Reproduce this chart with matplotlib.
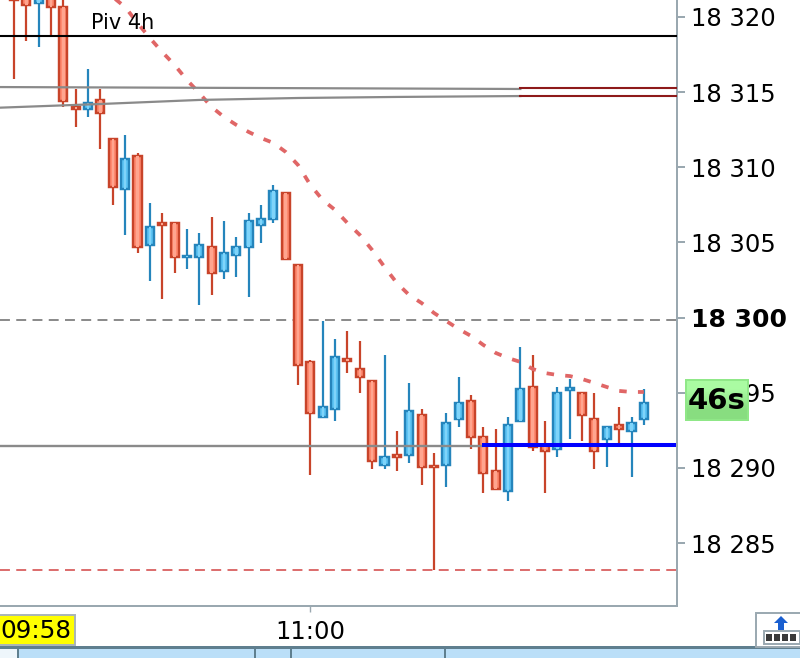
import numpy as np
import matplotlib
matplotlib.use("Agg")

import matplotlib.pyplot as plt
from matplotlib.patches import Rectangle, Polygon

opens = [18321.33, 18321.33, 18320.93, 18321.33, 18320.66, 18314.01, 18313.88, 18314.48, 18311.88, 18308.56,
         18310.75, 18304.83, 18306.29, 18306.29, 18304.03, 18304.03, 18304.70, 18303.10, 18304.17, 18304.70,
         18306.16, 18306.56, 18308.29, 18303.50, 18297.05, 18293.39, 18293.92, 18297.25, 18296.58, 18295.78,
         18290.19, 18290.86, 18290.86, 18293.52, 18290.13, 18290.19, 18293.25, 18294.45, 18292.06, 18289.80,
         18288.46, 18293.12, 18295.38, 18291.52, 18291.25, 18295.18, 18294.98, 18293.25, 18291.92, 18292.86,
         18292.46, 18293.25]
closes = [18321.13, 18320.80, 18321.53, 18320.66, 18314.41, 18313.88, 18314.28, 18313.61, 18308.69, 18310.55,
          18304.70, 18306.03, 18306.16, 18304.03, 18304.10, 18304.83, 18302.97, 18304.30, 18304.70, 18306.43,
          18306.56, 18308.42, 18303.90, 18296.85, 18293.65, 18294.05, 18297.38, 18297.11, 18296.05, 18290.46,
          18290.73, 18290.73, 18293.79, 18290.06, 18290.06, 18292.99, 18294.32, 18292.06, 18289.66, 18288.60,
          18292.86, 18295.25, 18291.39, 18291.12, 18294.98, 18295.32, 18293.52, 18291.12, 18292.72, 18292.59,
          18292.99, 18294.32]
highs = [18321.93, 18321.93, 18321.93, 18321.93, 18321.93, 18315.21, 18316.54, 18315.21, 18311.88, 18312.15,
         18310.95, 18307.62, 18306.96, 18306.29, 18305.89, 18305.63, 18306.69, 18306.43, 18305.36, 18306.96,
         18307.49, 18308.82, 18308.29, 18303.50, 18297.18, 18299.77, 18298.58, 18299.11, 18298.44, 18295.78,
         18297.51, 18292.46, 18295.65, 18293.92, 18291.00, 18293.65, 18296.05, 18294.85, 18292.72, 18292.59,
         18293.39, 18298.04, 18297.51, 18293.12, 18295.38, 18295.91, 18294.98, 18294.98, 18292.72, 18294.05,
         18293.39, 18295.25]
lows = [18315.87, 18318.40, 18318.00, 18318.80, 18314.01, 18312.68, 18313.35, 18311.22, 18307.49, 18305.50,
        18304.30, 18302.43, 18301.24, 18302.97, 18303.23, 18300.84, 18301.50, 18302.57, 18302.70, 18301.37,
        18304.96, 18306.29, 18303.90, 18295.52, 18289.53, 18293.39, 18293.12, 18296.31, 18294.98, 18289.93,
        18289.93, 18289.80, 18290.33, 18288.86, 18283.21, 18288.73, 18292.72, 18291.26, 18288.33, 18288.60,
        18287.80, 18293.12, 18291.12, 18288.33, 18290.73, 18291.92, 18291.79, 18289.93, 18290.06, 18291.52,
        18289.40, 18292.86]

ma_start = 8
ma_values = [18321.33, 18320.66, 18319.60, 18318.60, 18317.67, 18316.81, 18315.81, 18314.94, 18314.01, 18313.35,
             18312.82, 18312.35, 18311.95, 18311.62, 18311.02, 18310.15, 18308.82, 18307.82, 18307.16, 18306.29,
             18305.50, 18304.50, 18303.37, 18302.30, 18301.50, 18300.97, 18300.31, 18299.77, 18299.24, 18298.78,
             18298.18, 18297.65, 18297.31, 18297.05, 18296.58, 18296.31, 18296.18, 18296.11, 18295.91, 18295.65,
             18295.38, 18295.12, 18295.05, 18295.05]

pivot_level = 18318.73
upper_gray_x = [-2, 41]
upper_gray = [18315.34, 18315.21]
lower_gray_x = [-2, 7, 15, 23, 31, 41]
lower_gray = [18313.94, 18314.21, 18314.48, 18314.61, 18314.68, 18314.74]
dark_red_levels = [18315.28, 18314.74]
dark_red_from = 41
dashed_gray_level = 18299.84
dashed_red_level = 18283.21
solid_gray_level = 18291.46
blue_level = 18291.5
blue_from = 37.9

price_ticks = [18285, 18290, 18295, 18300, 18305, 18310, 18315, 18320]
price_labels = ["18 285", "18 290", "18 295", "18 300", "18 305", "18 310", "18 315", "18 320"]
time_tick = 24
time_label = "11:00"

RED_EDGE = "#C8442A"
RED_FILL = "#FF8A70"
RED_LIGHT = "#FFA58F"
BLUE_EDGE = "#2585BC"
BLUE_FILL = "#5EC4F4"
BLUE_LIGHT = "#7FD4FA"
FRAME = "#9AA8B0"

fig = plt.figure(figsize=(8, 6.58), dpi=100)
ax = fig.add_axes([0, 52 / 658, 677 / 800, 606 / 658])

xs = np.arange(len(opens))
o = np.array(opens)
c = np.array(closes)
is_up = c > o
edge = [BLUE_EDGE if up else RED_EDGE for up in is_up]
fill = [BLUE_FILL if up else RED_FILL for up in is_up]
light = [BLUE_LIGHT if up else RED_LIGHT for up in is_up]

ax.vlines(xs, lows, highs, colors=edge, linewidth=1.6, zorder=2)
ax.bar(xs, np.abs(c - o), bottom=np.minimum(o, c), width=0.65, color=fill,
       edgecolor=edge, linewidth=1.75, zorder=3)
ax.bar(xs, np.abs(c - o), bottom=np.minimum(o, c), width=0.2, color=light, linewidth=0, zorder=3.1)

ax.plot(xs[ma_start:], ma_values, color="#E06666", linewidth=2.7, linestyle=(0, (2.0, 3.0)),
        dash_capstyle="butt", zorder=4)

ax.axhline(pivot_level, color="black", linewidth=1.5, zorder=5)
ax.plot(upper_gray_x, upper_gray, color="#8A8A8A", linewidth=1.6, zorder=5)
ax.plot(lower_gray_x, lower_gray, color="#8A8A8A", linewidth=1.6, zorder=5)
for level in dark_red_levels:
    ax.plot([dark_red_from, 60], [level, level], color="#8E1A1A", linewidth=1.5, zorder=5)
ax.axhline(dashed_gray_level, color="#808080", linewidth=1.3, dashes=(5.5, 3.5), zorder=1)
ax.axhline(dashed_red_level, color="#D96060", linewidth=1.3, dashes=(5.5, 3.5), zorder=1)
ax.plot([-2, blue_from], [solid_gray_level, solid_gray_level], color="#8A8A8A", linewidth=1.7, zorder=5)
ax.plot([blue_from, 53.6], [blue_level, blue_level], color="#0000FF", linewidth=2.9,
        solid_capstyle="butt", zorder=6)

ax.text(6.2, 18319.62, "Piv 4h", fontsize=15, va="center", ha="left", color="black", zorder=7)

ax.set_xlim(-14 / 12.35, 663 / 12.35)
ax.set_ylim(18280.81, 18321.13)
ax.spines["top"].set_visible(False)
ax.spines["left"].set_visible(False)
for side in ["right", "bottom"]:
    ax.spines[side].set_color(FRAME)
    ax.spines[side].set_linewidth(1.44)

ax.yaxis.tick_right()
ax.set_yticks(price_ticks)
ax.set_yticklabels(price_labels)
ax.tick_params(axis="y", length=5.8, width=1.44, color=FRAME, pad=4.6, labelsize=17.5)
ax.set_xticks([time_tick])
ax.set_xticklabels([time_label])
ax.tick_params(axis="x", length=4.3, width=1, color=FRAME, pad=5.5, labelsize=17.5)
ax.get_yticklabels()[price_ticks.index(18300)].set_fontweight("bold")
ax.get_yticklabels()[price_ticks.index(18300)].set_fontsize(18)

# window chrome, in pixel coordinates
chrome = fig.add_axes([0, 0, 1, 1], zorder=10)
chrome.axis("off")
chrome.patch.set_alpha(0)

# countdown badge
gradient = np.array([[0.0], [1.0]])
cmap = matplotlib.colors.LinearSegmentedColormap.from_list("badge", ["#AAFBA2", "#88DD80"])
chrome.imshow(gradient, cmap=cmap, extent=(685, 749, 421, 379), aspect="auto", interpolation="bilinear", zorder=1)
chrome.add_patch(Rectangle((686, 380), 62, 40, fill=False, edgecolor="#90E888", linewidth=1.4, zorder=2))
chrome.text(717, 401, "46s", fontsize=21, fontweight="bold", ha="center", va="center", color="black", zorder=3)
chrome.set_xlim(0, 800)
chrome.set_ylim(658, 0)

# time cursor label
chrome.add_patch(Rectangle((-2, 614.5), 77, 30.5, facecolor="#FFFF00", edgecolor="#A8B4B8", linewidth=1.4))
chrome.text(36, 631, "09:58", fontsize=17.8, ha="center", va="center", color="black")

# bottom strip
chrome.add_patch(Rectangle((0, 649), 800, 9, facecolor="#BBDFF8", edgecolor="none"))
chrome.add_patch(Rectangle((0, 646), 800, 3, facecolor="#5F7F8F", edgecolor="none"))
chrome.add_patch(Rectangle((0, 649), 17, 9, facecolor="#EEF6FB", edgecolor="none"))
for px in [18, 255, 291, 445]:
    chrome.add_patch(Rectangle((px - 0.75, 649), 1.5, 9, facecolor="#5F7F8F", edgecolor="none"))

# expand button
chrome.add_patch(Rectangle((755.5, 613), 50, 34, facecolor="white", edgecolor=FRAME, linewidth=1.4))
chrome.add_patch(Polygon([(774, 623), (781, 616), (788, 623), (784, 623), (784, 630), (778, 630), (778, 623)],
                         closed=True, facecolor="#1A5FD0", edgecolor="none"))
chrome.add_patch(Rectangle((763.5, 631), 36, 13, facecolor="white", edgecolor=FRAME, linewidth=1.4))
for px in [766, 774, 782, 790]:
    chrome.add_patch(Rectangle((px, 634), 6, 6.5, facecolor="#3A3A3A", edgecolor="none"))

fig.savefig("out.png", dpi=100)
